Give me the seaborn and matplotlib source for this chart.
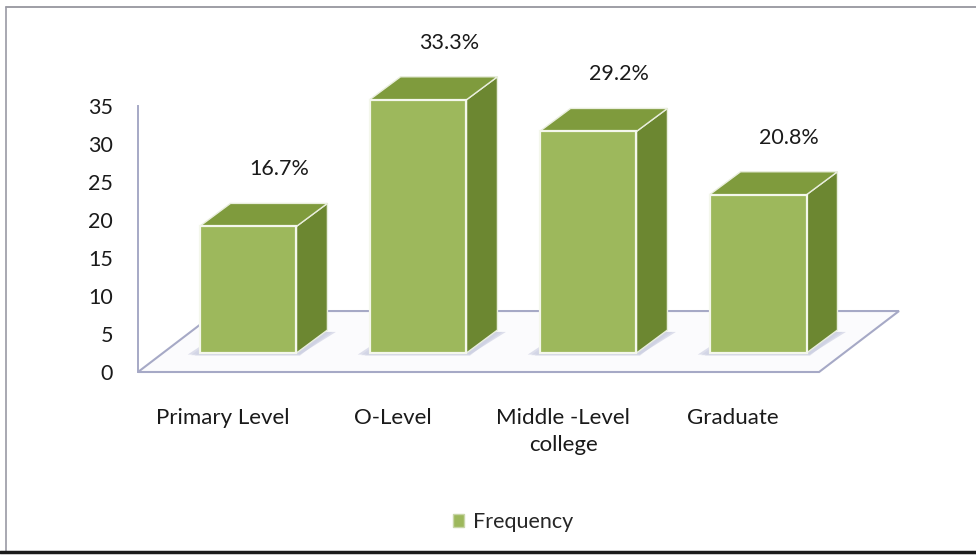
import matplotlib
matplotlib.use("Agg")
import matplotlib.pyplot as plt
from matplotlib.patches import Polygon, Patch
from matplotlib.lines import Line2D
import seaborn as sns
import pandas as pd

# ---- data -------------------------------------------------------------
categories = ["Primary Level", "O-Level", "Middle -Level\ncollege", "Graduate"]
frequency = [20, 40, 35, 25]
y_ticks = [0, 5, 10, 15, 20, 25, 30, 35]
series_name = "Frequency"

total = sum(frequency)
percent_labels = [f"{100 * v / total:.1f}%" for v in frequency]

# ---- style ------------------------------------------------------------
sns.set_theme(style="white")
plt.rcParams["font.family"] = ["Lato", "DejaVu Sans"]

FRONT = "#9DB85C"
TOP = "#7F9B3D"
SIDE = "#6C8731"
FLOOR_LINE = "#A6A9C6"
SHADOW = "#C9CCE0"
TEXT = "#1a1a1a"

W, H = 976, 556
fig = plt.figure(figsize=(W / 100, H / 100), dpi=100)
fig.patch.set_facecolor("white")

# main drawing area: x in category units, y in frequency units
ax = fig.add_axes([100 / W, (H - 372) / H, 850 / W, (372 - 20) / H])
df = pd.DataFrame({"level": categories, "frequency": frequency})
sns.barplot(data=df, x="level", y="frequency", ax=ax, width=0.57,
            color=FRONT, saturation=1, edgecolor="#F4F7EC", linewidth=1.6,
            zorder=4)
ax.set_xlim(-0.8706, 4.129)
ax.set_ylim(-3.0, 52.6)
for s in ax.spines.values():
    s.set_visible(False)
ax.set_facecolor("none")
ax.set_ylabel("")
ax.set_xlabel("")
ax.set_yticks([])

# oblique depth of a bar and of the floor (data units)
DX, DY = 0.182, 3.63
FLOOR_DX, FLOOR_DY = 0.47, 9.63
FLOOR_FRONT_Y = -3.0
LABEL_SHIFT = 0.147

# floor plate
x0 = -0.647
x1 = 3.359
floor = Polygon([(x0, FLOOR_FRONT_Y), (x1, FLOOR_FRONT_Y),
                 (x1 + FLOOR_DX, FLOOR_FRONT_Y + FLOOR_DY),
                 (x0 + FLOOR_DX, FLOOR_FRONT_Y + FLOOR_DY)],
                closed=True, facecolor="#FBFBFD", edgecolor=FLOOR_LINE,
                linewidth=1.5, zorder=1, clip_on=False)
ax.add_patch(floor)

# 3-D faces built on the seaborn bars
for i, bar in enumerate(ax.patches[:len(frequency)]):
    bx, bw, bh = bar.get_x(), bar.get_width(), bar.get_height()
    # soft shadow on the floor
    for k, a in enumerate([0.35, 0.45, 0.6]):
        g = 0.06 - 0.02 * k
        shadow = Polygon([(bx - 0.09 + g, -0.45 + 0.1 * k),
                          (bx + bw + 0.02, -0.45 + 0.1 * k),
                          (bx + bw + DX + 0.07 - g, DY - 0.3),
                          (bx + DX - 0.05, DY - 0.3)],
                         closed=True, facecolor=SHADOW, edgecolor="none",
                         alpha=a, zorder=2)
        ax.add_patch(shadow)
    side = Polygon([(bx + bw, 0), (bx + bw + DX, DY),
                    (bx + bw + DX, bh + DY), (bx + bw, bh)],
                   closed=True, facecolor=SIDE, edgecolor="#E9EEDD",
                   linewidth=1.0, zorder=3)
    top = Polygon([(bx, bh), (bx + bw, bh), (bx + bw + DX, bh + DY),
                   (bx + DX, bh + DY)],
                  closed=True, facecolor=TOP, edgecolor="#E9EEDD",
                  linewidth=1.0, zorder=3)
    ax.add_patch(side)
    ax.add_patch(top)
    ax.text(bx + bw / 2 + DX, bh + DY + 5.4, percent_labels[i],
            ha="center", va="center", fontsize=15.5, color=TEXT, zorder=6)

# category labels along the front edge of the floor
ax.set_xticks([i - LABEL_SHIFT for i in range(len(categories))])
ax.set_xticklabels(categories, fontsize=16, color=TEXT,
                   multialignment="center", linespacing=1.45)
ax.tick_params(axis="x", length=0, pad=26)

# value axis on the left wall
ax_y = fig.add_axes([138 / W, (H - 372) / H, 0.001, (372 - 106) / H])
ax_y.set_ylim(0, 35)
ax_y.set_yticks(y_ticks)
ax_y.set_yticklabels([str(t) for t in y_ticks], fontsize=15.5, color=TEXT)
ax_y.set_xticks([])
ax_y.tick_params(axis="y", length=0, pad=18)
ax_y.set_facecolor("none")
for name, s in ax_y.spines.items():
    s.set_visible(name == "left")
ax_y.spines["left"].set_color(FLOOR_LINE)
ax_y.spines["left"].set_linewidth(1.4)

# legend
fig.legend(handles=[Patch(facecolor=FRONT, edgecolor="#C8D6A8")],
           labels=[series_name], loc="center",
           bbox_to_anchor=(513 / W, 1 - 522 / H), frameon=False,
           fontsize=15.5, handlelength=0.5, handleheight=0.6,
           handletextpad=0.4)

# chart frame
fig.add_artist(Line2D([6 / W, 1], [1 - 7 / H, 1 - 7 / H],
                      color="#8E8E96", linewidth=1.2))
fig.add_artist(Line2D([6 / W, 6 / W], [1 - 7 / H, 1 - 552 / H],
                      color="#9A9AA4", linewidth=1.2))
fig.add_artist(Line2D([0, 1], [1 - 552 / H, 1 - 552 / H],
                      color="#1b1b1b", linewidth=2.5))

fig.savefig("out.png", dpi=100, facecolor="white")
